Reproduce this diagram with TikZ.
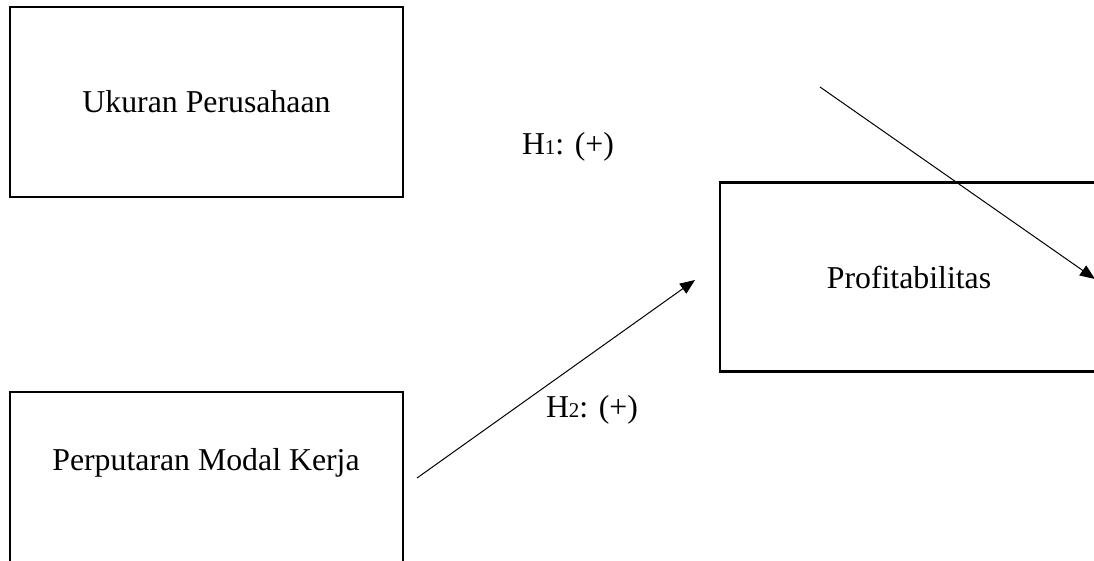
\documentclass[tikz,border=0pt]{standalone}
\usepackage{fontspec}
\setmainfont{Liberation Serif}
\usetikzlibrary{arrows.meta}
\begin{document}
\begin{tikzpicture}[x=1pt,y=-1pt,
  txt/.style={font=\fontsize{31.8}{38}\selectfont, inner sep=0pt},
  varbox/.style={draw, line width=2.4pt, inner sep=0pt, txt},
  link/.style={line width=1pt, -{Triangle[length=15pt,width=12pt]}}]
\useasboundingbox (0,0) rectangle (1094,560);
\clip (0,0) rectangle (1094,560);

% variable boxes
\node[varbox, minimum width=393pt, minimum height=190pt] (ukuran) at (206.5,102) {Ukuran Perusahaan};
\node[varbox, minimum width=393pt, minimum height=190pt] (modal) at (206.5,487) {};
\node[txt] (modaltext) at (206,463) {Perputaran Modal Kerja};
\node[varbox, minimum width=378pt, minimum height=189pt] (profit) at (909,277) {Profitabilitas};

% hypothesis labels
\node[txt] (h1) at (568,147) {H{\fontsize{21}{24}\selectfont 1}: (+)};
\node[txt] (h2) at (592,410) {H{\fontsize{21}{24}\selectfont 2}: (+)};

% arrows
\coordinate (a1s) at (820,87);
\coordinate (a1e) at (1095,279);
\coordinate (a2s) at (417,478);
\coordinate (a2e) at (695,280);
\draw[link] (a1s) -- (a1e);
\draw[link] (a2s) -- (a2e);
\end{tikzpicture}
\end{document}
